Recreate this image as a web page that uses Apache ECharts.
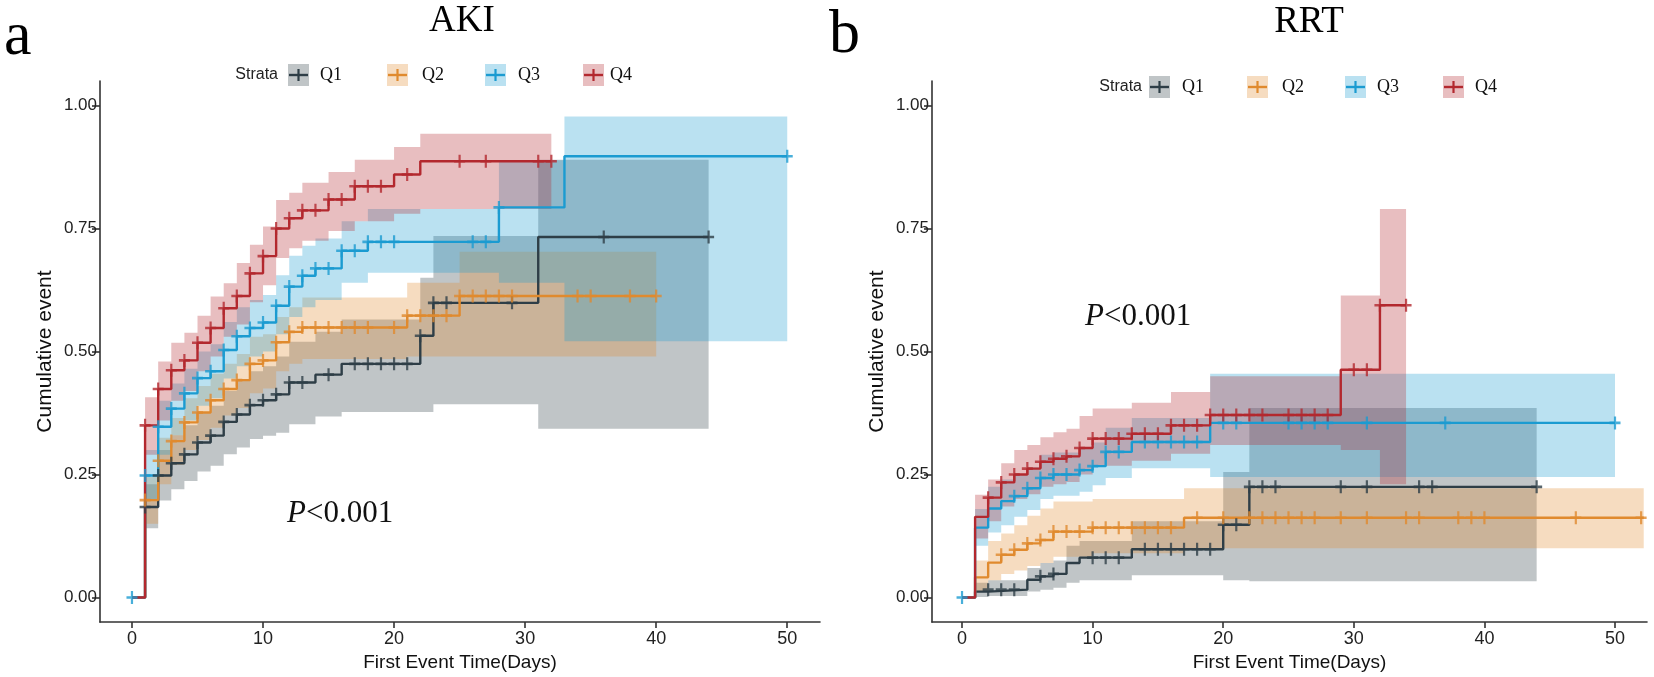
<!DOCTYPE html>
<html>
<head>
<meta charset="utf-8">
<script src="https://cdn.jsdelivr.net/npm/echarts@6/dist/echarts.min.js"></script>
<style>
  html, body { margin: 0; padding: 0; background: #fff; }
  #main { width: 1654px; height: 677px; }
</style>
</head>
<body>
<div id="main"></div>
<script>
// ---- data (time in days, cumulative event) ----

// panel a: AKI
var akiQ1Time  = [0, 1, 2, 3, 4, 5, 6, 7, 8, 9, 10, 11, 12, 14, 16, 22, 23, 31];
var akiQ1Est   = [0, 0.184, 0.248, 0.273, 0.291, 0.315, 0.329, 0.357, 0.372, 0.391, 0.401, 0.413, 0.437, 0.453, 0.475, 0.532, 0.599, 0.733];
var akiQ1Low   = [0, 0.141, 0.197, 0.220, 0.237, 0.256, 0.268, 0.291, 0.305, 0.322, 0.329, 0.335, 0.352, 0.368, 0.377, 0.377, 0.393, 0.343];
var akiQ1Up    = [0, 0.230, 0.300, 0.330, 0.350, 0.375, 0.390, 0.420, 0.440, 0.460, 0.470, 0.490, 0.520, 0.540, 0.565, 0.650, 0.735, 0.890];
var akiQ1End   = 44;
var akiQ1Cens  = [1, 2, 3, 4, 5, 6, 7, 8, 9, 10, 11, 12, 13, 15, 17, 18, 19, 20, 21, 22, 23, 24, 29, 36, 44];

var akiQ2Time  = [0, 1, 2, 3, 4, 5, 6, 7, 8, 9, 10, 11, 12, 13, 21, 25];
var akiQ2Est   = [0, 0.198, 0.278, 0.318, 0.356, 0.376, 0.401, 0.424, 0.442, 0.475, 0.482, 0.519, 0.540, 0.549, 0.573, 0.613];
var akiQ2Low   = [0, 0.150, 0.230, 0.270, 0.300, 0.320, 0.345, 0.370, 0.385, 0.415, 0.425, 0.460, 0.475, 0.485, 0.490, 0.490];
var akiQ2Up    = [0, 0.245, 0.325, 0.365, 0.405, 0.430, 0.455, 0.475, 0.495, 0.530, 0.535, 0.570, 0.590, 0.610, 0.640, 0.703];
var akiQ2End   = 40;
var akiQ2Cens  = [1, 2, 3, 4, 5, 6, 7, 8, 9, 10, 11, 12, 13, 14, 15, 16, 17, 18, 20, 21, 22, 23, 24, 25, 26, 27, 28, 29, 34, 35, 38, 40];

var akiQ3Time  = [0, 1, 2, 3, 4, 5, 6, 7, 8, 9, 10, 11, 12, 13, 14, 16, 18, 28, 33];
var akiQ3Est   = [0, 0.248, 0.347, 0.384, 0.415, 0.446, 0.460, 0.503, 0.531, 0.548, 0.559, 0.593, 0.632, 0.654, 0.669, 0.705, 0.723, 0.793, 0.897];
var akiQ3Low   = [0, 0.200, 0.290, 0.330, 0.360, 0.390, 0.405, 0.445, 0.470, 0.490, 0.500, 0.535, 0.570, 0.590, 0.605, 0.640, 0.660, 0.640, 0.521];
var akiQ3Up    = [0, 0.300, 0.400, 0.435, 0.465, 0.500, 0.515, 0.560, 0.590, 0.605, 0.615, 0.655, 0.695, 0.715, 0.730, 0.765, 0.790, 0.889, 0.978];
var akiQ3End   = 50;
var akiQ3Cens  = [0, 1, 2, 3, 4, 5, 6, 7, 8, 9, 10, 11, 12, 13, 14, 15, 16, 17, 18, 19, 20, 26, 27, 28, 50];

var akiQ4Time  = [0, 1, 2, 3, 4, 5, 6, 7, 8, 9, 10, 11, 12, 13, 15, 17, 20, 22];
var akiQ4Est   = [0, 0.350, 0.424, 0.462, 0.482, 0.518, 0.548, 0.588, 0.613, 0.659, 0.694, 0.750, 0.771, 0.787, 0.809, 0.836, 0.860, 0.887];
var akiQ4Low   = [0, 0.290, 0.360, 0.400, 0.420, 0.460, 0.490, 0.530, 0.555, 0.600, 0.635, 0.690, 0.710, 0.725, 0.745, 0.765, 0.780, 0.790];
var akiQ4Up    = [0, 0.407, 0.480, 0.518, 0.538, 0.573, 0.612, 0.639, 0.680, 0.717, 0.754, 0.808, 0.823, 0.843, 0.865, 0.890, 0.916, 0.943];
var akiQ4End   = 32;
var akiQ4Cens  = [1, 2, 3, 4, 5, 6, 7, 8, 9, 10, 11, 12, 13, 14, 15, 16, 17, 18, 19, 21, 25, 27, 31, 32];

// panel b: RRT
var rrtQ1Time  = [0, 1, 2, 5, 6, 7, 8, 9, 13, 20, 22];
var rrtQ1Est   = [0, 0.012, 0.016, 0.036, 0.043, 0.048, 0.070, 0.081, 0.098, 0.148, 0.225];
var rrtQ1Low   = [0, 0.001, 0.003, 0.012, 0.016, 0.020, 0.030, 0.035, 0.045, 0.035, 0.033];
var rrtQ1Up    = [0, 0.030, 0.035, 0.060, 0.070, 0.075, 0.105, 0.115, 0.155, 0.255, 0.385];
var rrtQ1End   = 44;
var rrtQ1Cens  = [2, 3, 4, 6, 7, 10, 11, 12, 14, 15, 16, 17, 18, 19, 20, 21, 22, 23, 24, 29, 31, 35, 36, 44];

var rrtQ2Time  = [0, 1, 2, 3, 4, 5, 6, 7, 10, 17];
var rrtQ2Est   = [0, 0.041, 0.071, 0.087, 0.097, 0.110, 0.117, 0.134, 0.142, 0.162];
var rrtQ2Low   = [0, 0.012, 0.035, 0.048, 0.055, 0.064, 0.070, 0.083, 0.090, 0.100];
var rrtQ2Up    = [0, 0.075, 0.115, 0.130, 0.147, 0.166, 0.181, 0.195, 0.200, 0.222];
var rrtQ2End   = 52.2;
var rrtQ2Cens  = [3, 4, 5, 6, 7, 8, 9, 10, 11, 12, 13, 14, 15, 16, 18, 20, 22, 23, 24, 25, 26, 27, 29, 31, 34, 35, 38, 39, 40, 47, 52];

var rrtQ3Time  = [0, 1, 2, 3, 4, 5, 6, 7, 9, 10, 11, 13, 19];
var rrtQ3Est   = [0, 0.142, 0.181, 0.196, 0.206, 0.222, 0.243, 0.250, 0.259, 0.267, 0.296, 0.316, 0.355];
var rrtQ3Low   = [0, 0.105, 0.132, 0.147, 0.164, 0.178, 0.200, 0.207, 0.215, 0.228, 0.243, 0.263, 0.245];
var rrtQ3Up    = [0, 0.180, 0.225, 0.240, 0.250, 0.265, 0.290, 0.295, 0.305, 0.315, 0.345, 0.365, 0.455];
var rrtQ3End   = 50;
var rrtQ3Cens  = [0, 4, 5, 6, 7, 8, 9, 10, 11, 12, 14, 15, 16, 17, 18, 20, 21, 25, 26, 27, 28, 31, 37, 50];

var rrtQ4Time  = [0, 1, 2, 3, 4, 5, 6, 7, 8, 9, 10, 13, 16, 19, 29, 32];
var rrtQ4Est   = [0, 0.164, 0.203, 0.234, 0.250, 0.262, 0.276, 0.282, 0.287, 0.304, 0.323, 0.333, 0.350, 0.371, 0.463, 0.594];
var rrtQ4Low   = [0, 0.120, 0.155, 0.185, 0.200, 0.210, 0.225, 0.230, 0.235, 0.250, 0.268, 0.278, 0.292, 0.310, 0.300, 0.230];
var rrtQ4Up    = [0, 0.209, 0.240, 0.273, 0.300, 0.310, 0.326, 0.336, 0.343, 0.369, 0.384, 0.396, 0.418, 0.450, 0.614, 0.790];
var rrtQ4End   = 34;
var rrtQ4Cens  = [2, 3, 4, 5, 6, 7, 8, 9, 10, 11, 12, 13, 14, 15, 16, 17, 18, 19, 20, 21, 22, 23, 25, 26, 27, 28, 30, 31, 32, 34];

var strataNames = ['Q1', 'Q2', 'Q3', 'Q4'];
var xTicks = [0, 10, 20, 30, 40, 50];
var yTicks = [0, 0.25, 0.5, 0.75, 1];

var lineColors = ['#2e3e47', '#e08a2e', '#1b9bd1', '#b3282e'];
var bandColors = ['rgba(46,62,71,0.3)', 'rgba(224,138,46,0.3)', 'rgba(27,155,209,0.3)', 'rgba(179,40,46,0.3)'];

var NARROW = '"Liberation Sans Narrow", "Liberation Sans", Arial, sans-serif';
var SANS = '"Liberation Sans", Arial, sans-serif';
var SERIF = '"Liberation Serif", "Times New Roman", serif';

var panels = [
    {
        xMin: -2.44, xMax: 52.5,
        strata: [
            {t: akiQ1Time, est: akiQ1Est, lo: akiQ1Low, hi: akiQ1Up, end: akiQ1End, cens: akiQ1Cens},
            {t: akiQ2Time, est: akiQ2Est, lo: akiQ2Low, hi: akiQ2Up, end: akiQ2End, cens: akiQ2Cens},
            {t: akiQ3Time, est: akiQ3Est, lo: akiQ3Low, hi: akiQ3Up, end: akiQ3End, cens: akiQ3Cens},
            {t: akiQ4Time, est: akiQ4Est, lo: akiQ4Low, hi: akiQ4Up, end: akiQ4End, cens: akiQ4Cens}
        ]
    },
    {
        xMin: -2.3, xMax: 52.45,
        strata: [
            {t: rrtQ1Time, est: rrtQ1Est, lo: rrtQ1Low, hi: rrtQ1Up, end: rrtQ1End, cens: rrtQ1Cens},
            {t: rrtQ2Time, est: rrtQ2Est, lo: rrtQ2Low, hi: rrtQ2Up, end: rrtQ2End, cens: rrtQ2Cens},
            {t: rrtQ3Time, est: rrtQ3Est, lo: rrtQ3Low, hi: rrtQ3Up, end: rrtQ3End, cens: rrtQ3Cens},
            {t: rrtQ4Time, est: rrtQ4Est, lo: rrtQ4Low, hi: rrtQ4Up, end: rrtQ4End, cens: rrtQ4Cens}
        ]
    }
];

// step value at time x
function stepAt(s, x) {
    var v = 0;
    for (var i = 0; i < s.t.length; i++) {
        if (s.t[i] <= x) v = s.est[i];
    }
    return v;
}

var crossPath = 'path://M4.8,0h2.4v4.8h4.8v2.4h-4.8v4.8h-2.4v-4.8h-4.8v-2.4h4.8z';

var series = [];
panels.forEach(function (p, pi) {
    p.strata.forEach(function (s, si) {
        // confidence band as one step polygon
        var top = [], bottom = [];
        for (var i = 1; i < s.t.length; i++) {
            var t1 = (i + 1 < s.t.length) ? s.t[i + 1] : s.end;
            top.push([s.t[i], s.hi[i]], [t1, s.hi[i]]);
            bottom.push([s.t[i], s.lo[i]], [t1, s.lo[i]]);
        }
        var ring = top.concat(bottom.reverse());
        series.push({
            type: 'custom',
            xAxisIndex: pi, yAxisIndex: pi,
            silent: true, z: 1,
            data: [[s.t[1], s.lo[1]]],
            renderItem: (function (pts, col) {
                return function (params, api) {
                    return {
                        type: 'polygon',
                        shape: {points: pts.map(function (d) { return api.coord(d); })},
                        style: {fill: col}
                    };
                };
            })(ring, bandColors[si])
        });

        var lineData = s.t.map(function (t, i) { return [t, s.est[i]]; });
        lineData.push([s.end, s.est[s.est.length - 1]]);
        series.push({
            type: 'line', step: 'end',
            xAxisIndex: pi, yAxisIndex: pi,
            data: lineData, showSymbol: false, silent: true, z: 2,
            lineStyle: {color: lineColors[si], width: 2.4},
            itemStyle: {color: lineColors[si]}
        });

        series.push({
            type: 'scatter',
            xAxisIndex: pi, yAxisIndex: pi,
            data: s.cens.map(function (c) { return [c, stepAt(s, c)]; }),
            symbol: crossPath, symbolSize: [11, 13], silent: true, z: 3,
            itemStyle: {color: lineColors[si]}
        });
    });
});

var axisLineStyle = {color: '#333', width: 1.6};

function makeX(p, gi) {
    return {
        type: 'value', gridIndex: gi, min: p.xMin, max: p.xMax,
        name: 'First Event Time(Days)', nameLocation: 'middle', nameGap: 28,
        nameTextStyle: {fontFamily: NARROW, fontSize: 19, color: '#111'},
        axisLine: {show: true, onZero: false, lineStyle: axisLineStyle},
        axisTick: {show: true, length: 6, customValues: xTicks, lineStyle: axisLineStyle},
        axisLabel: {customValues: xTicks, fontFamily: NARROW, fontSize: 18, color: '#222', margin: 8},
        splitLine: {show: false}
    };
}
function makeY(gi) {
    return {
        type: 'value', gridIndex: gi, min: -0.05, max: 1.05,
        name: 'Cumulative event', nameLocation: 'middle', nameGap: 44, nameRotate: 90,
        nameTextStyle: {fontFamily: SANS, fontSize: 21, color: '#111'},
        axisLine: {show: true, onZero: false, lineStyle: axisLineStyle},
        axisTick: {show: true, length: 8, customValues: yTicks, lineStyle: axisLineStyle},
        axisLabel: {customValues: yTicks, fontFamily: NARROW, fontSize: 17, color: '#222', margin: 3,
            formatter: function (v) { return v.toFixed(2); }},
        splitLine: {show: false}
    };
}

// legend keys, drawn like ggsurvplot's
function legend(strataX, boxX, labelX, yc) {
    var els = [{
        type: 'text', x: strataX, y: yc,
        style: {text: 'Strata', font: '16px ' + NARROW, fill: '#222', align: 'right', verticalAlign: 'middle'}
    }];
    for (var i = 0; i < 4; i++) {
        els.push({type: 'rect', shape: {x: boxX[i], y: yc - 11, width: 21, height: 22}, style: {fill: bandColors[i]}});
        els.push({type: 'line', shape: {x1: boxX[i] + 1, y1: yc, x2: boxX[i] + 20, y2: yc}, style: {stroke: lineColors[i], lineWidth: 2.4}});
        els.push({type: 'line', shape: {x1: boxX[i] + 10.5, y1: yc - 6, x2: boxX[i] + 10.5, y2: yc + 6}, style: {stroke: lineColors[i], lineWidth: 2.2}});
        els.push({
            type: 'text', x: labelX[i], y: yc,
            style: {text: strataNames[i], font: '18px ' + SERIF, fill: '#111', verticalAlign: 'middle'}
        });
    }
    return els;
}

function pText(x, y) {
    return {
        type: 'text', x: x, y: y,
        style: {
            text: '{i|P}{n|<0.001}', verticalAlign: 'middle',
            rich: {
                i: {fontFamily: SERIF, fontStyle: 'italic', fontSize: 31, fill: '#111'},
                n: {fontFamily: SERIF, fontSize: 31, fill: '#111'}
            }
        }
    };
}

var graphics = [
    {type: 'text', x: 4, y: 38, style: {text: 'a', font: '62px ' + SERIF, fill: '#000', verticalAlign: 'middle'}},
    {type: 'text', x: 829, y: 36, style: {text: 'b', font: '62px ' + SERIF, fill: '#000', verticalAlign: 'middle'}},
    {type: 'text', x: 462, y: 21, style: {text: 'AKI', font: '37px ' + SERIF, fill: '#000', align: 'center', verticalAlign: 'middle'}},
    {type: 'text', x: 1309, y: 22, style: {text: 'RRT', font: '37px ' + SERIF, fill: '#000', align: 'center', verticalAlign: 'middle'}},
    pText(287, 514),
    pText(1085, 317)
].concat(
    legend(278, [288, 387, 485, 583], [320, 422, 518, 610], 75),
    legend(1142, [1149, 1247, 1345, 1443], [1182, 1282, 1377, 1475], 87)
);

var chart = echarts.init(document.getElementById('main'));
chart.setOption({
    animation: false,
    backgroundColor: '#fff',
    grid: [
        {left: 100, top: 81, width: 720, height: 542},
        {left: 932, top: 81, width: 715, height: 542}
    ],
    xAxis: [makeX(panels[0], 0), makeX(panels[1], 1)],
    yAxis: [makeY(0), makeY(1)],
    series: series,
    graphic: graphics
});
</script>
</body>
</html>
